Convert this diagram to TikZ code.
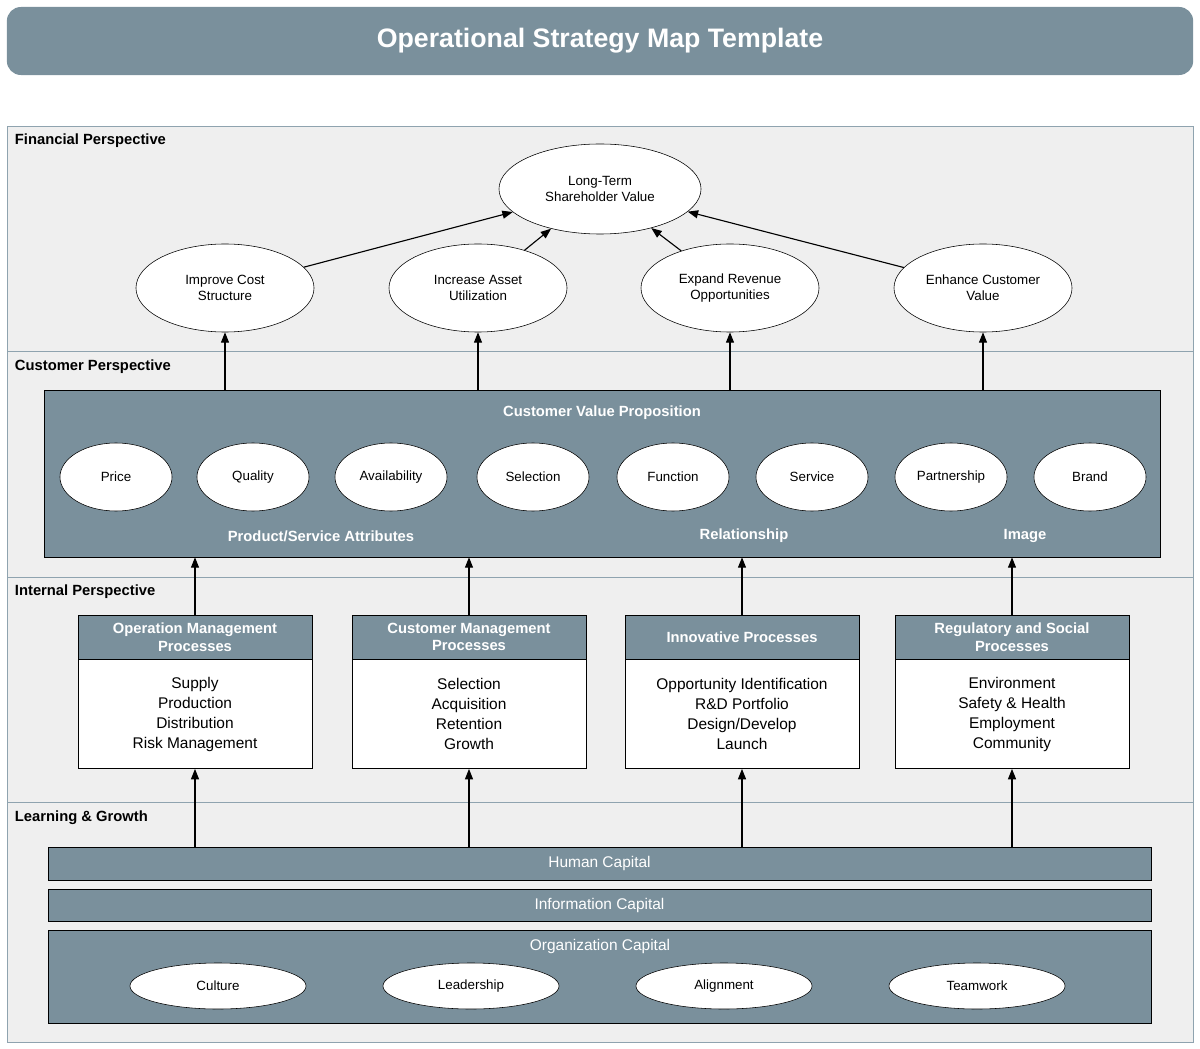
\documentclass[tikz,border=0pt]{standalone}
\usepackage{fontspec}
\setmainfont{Liberation Sans}
\usetikzlibrary{positioning}
\usetikzlibrary{shapes.geometric}
\usetikzlibrary{arrows.meta}
\definecolor{slate}{HTML}{7A909C}
\definecolor{band}{HTML}{EFEFEF}
\definecolor{bandline}{HTML}{8FA3AF}

\begin{document}
\begin{tikzpicture}[
            x = 0.025cm, y = -0.025cm,
            > = {Triangle[length=2.6mm,width=2mm]},
            goal/.style = {ellipse, draw = black, fill = white, font = \fontsize{9.5}{11.5}\selectfont, align = center, inner sep = 0pt},
            band/.style = {draw = bandline, fill = band},
            bandtitle/.style = {anchor = west, font = \fontsize{10.5}{12}\selectfont\bfseries},
            slatebox/.style = {draw = black, fill = slate},
            head/.style = {draw = black, fill = slate, text = white, font = \fontsize{10.5}{12.5}\selectfont\bfseries, align = center, minimum width = 5.85cm, minimum height = 1.1cm, inner sep = 0pt},
            body/.style = {draw = black, fill = white, font = \fontsize{11}{14.2}\selectfont, align = center, minimum width = 5.85cm, minimum height = 2.725cm, inner sep = 0pt},
            bar/.style = {draw = black, fill = slate, text = white, font = \fontsize{11}{13}\selectfont},
            link/.style = {->, thick}
            ]

        \useasboundingbox (0,0) rectangle (1200,1049);

        % title
        \node[fill = slate, rounded corners = 10pt, minimum width = 29.65cm, minimum height = 1.7cm, text = white, font = \fontsize{19}{22}\selectfont\bfseries] (title) at (600,41) {Operational Strategy Map Template};

        % perspective bands
        \draw[band] (7,126) rectangle (1193,351);
        \draw[band] (7,351) rectangle (1193,577);
        \draw[band] (7,577) rectangle (1193,802);
        \draw[band] (7,802) rectangle (1193,1042);
        \node[bandtitle] (fin) at (10,141) {Financial Perspective};
        \node[bandtitle] (cus) at (10,367) {Customer Perspective};
        \node[bandtitle] (int) at (10,592) {Internal Perspective};
        \node[bandtitle] (lrn) at (10,818) {Learning \& Growth};

        % financial level
        \node[goal, minimum width = 5.05cm, minimum height = 2.25cm] (LT) at (600,189) {Long-Term\\Shareholder Value};
        \node[goal, minimum width = 4.45cm, minimum height = 2.2cm] (F1) at (225,288) {Improve Cost\\Structure};
        \node[goal, minimum width = 4.45cm, minimum height = 2.2cm] (F2) at (478,288) {Increase Asset\\Utilization};
        \node[goal, minimum width = 4.45cm, minimum height = 2.2cm] (F3) at (730,288) {Expand Revenue\\Opportunities};
        \node[goal, minimum width = 4.45cm, minimum height = 2.2cm] (F4) at (983,288) {Enhance Customer\\Value};
        \draw[link] (F1) -- (LT);
        \draw[link] (F2) -- (LT);
        \draw[link] (F3) -- (LT);
        \draw[link] (F4) -- (LT);

        % customer level
        \node[slatebox, minimum width = 27.9cm, minimum height = 4.175cm] (CVP) at (602,473.5) {};
        \node[text = white, font = \fontsize{10.5}{12}\selectfont\bfseries] (cvpt) at (602,413) {Customer Value Proposition};
        \foreach \name/\x/\lbl in {C1/116/Price, C2/253/Quality, C3/391/Availability, C4/533/Selection, C5/673/Function, C6/812/Service, C7/951/Partnership, C8/1090/Brand}
            \node[goal, minimum width = 2.8cm, minimum height = 1.7cm] (\name) at (\x,477) {\lbl};
        \node[text = white, font = \fontsize{10.5}{12}\selectfont\bfseries] (attr) at (321,536) {Product/Service Attributes};
        \node[text = white, font = \fontsize{10.5}{12}\selectfont\bfseries] (rel) at (744,536) {Relationship};
        \node[text = white, font = \fontsize{10.5}{12}\selectfont\bfseries] (img) at (1025,536) {Image};
        \foreach \f in {F1, F2, F3, F4}
            \draw[link] (CVP.north -| \f) -- (\f);

        % internal level
        \node[head] (H1) at (195,637) {Operation Management\\Processes};
        \node[body, below = 0pt of H1] (B1) {Supply\\Production\\Distribution\\Risk Management};
        \node[head] (H2) at (469,637) {Customer Management\\Processes};
        \node[body, below = 0pt of H2] (B2) {Selection\\Acquisition\\Retention\\Growth};
        \node[head] (H3) at (742,637) {Innovative Processes};
        \node[body, below = 0pt of H3] (B3) {Opportunity Identification\\R\&D Portfolio\\Design/Develop\\Launch};
        \node[head] (H4) at (1012,637) {Regulatory and Social\\Processes};
        \node[body, below = 0pt of H4] (B4) {Environment\\Safety \& Health\\Employment\\Community};
        \foreach \h in {H1, H2, H3, H4}
            \draw[link] (\h.north) -- (CVP.south -| \h);

        % learning level
        \node[bar, minimum width = 27.575cm, minimum height = 0.825cm] (HC) at (599.5,863.5) {Human Capital};
        \node[bar, minimum width = 27.575cm, minimum height = 0.8cm] (IC) at (599.5,905) {Information Capital};
        \node[slatebox, minimum width = 27.575cm, minimum height = 2.325cm] (OC) at (599.5,976.5) {};
        \node[text = white, font = \fontsize{11}{13}\selectfont] (oct) at (600,946) {Organization Capital};
        \foreach \name/\x/\lbl in {O1/218/Culture, O2/471/Leadership, O3/724/Alignment, O4/977/Teamwork}
            \node[goal, minimum width = 4.4cm, minimum height = 1.15cm] (\name) at (\x,986) {\lbl};
        \foreach \b in {B1, B2, B3, B4}
            \draw[link] (HC.north -| \b) -- (\b.south);

\end{tikzpicture}
\end{document}
